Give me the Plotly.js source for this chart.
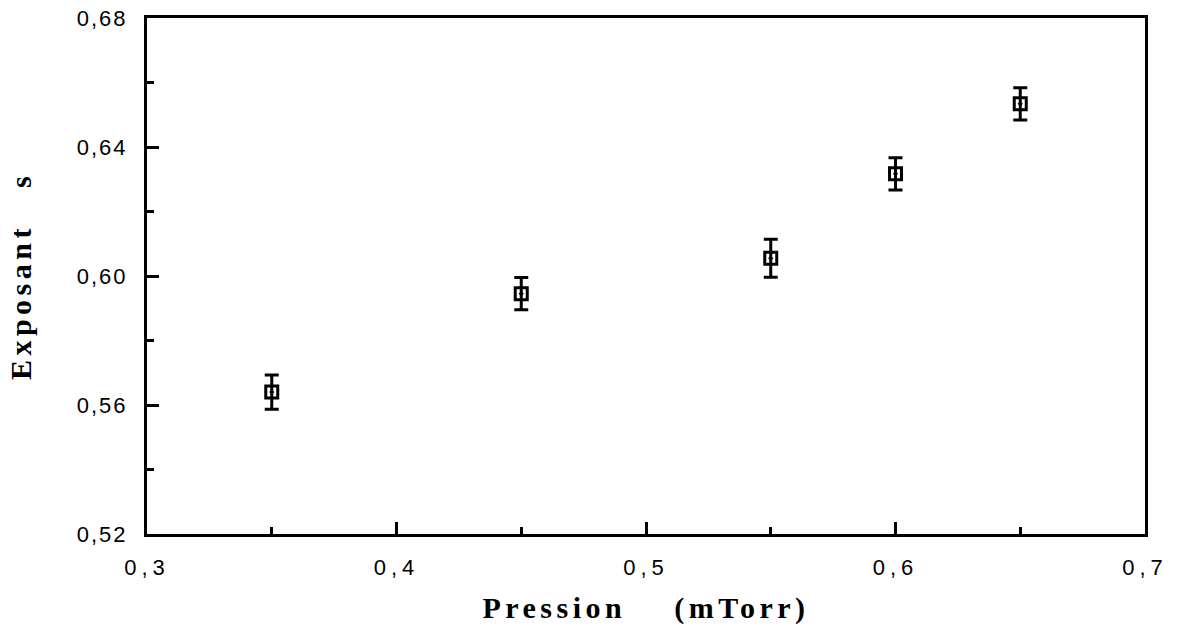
<!DOCTYPE html>
<html>
<head>
<meta charset="utf-8">
<script src="https://cdn.plot.ly/plotly-3.0.1.min.js"></script>
<style>
  html, body { margin: 0; padding: 0; background: #fff; }
  #chart { width: 1178px; height: 629px; }
  .xtitle, .ytitle { letter-spacing: 4.5px; }
  .xtick text { letter-spacing: 5px; }
  .ytick text { letter-spacing: 2px; }
</style>
</head>
<body>
<div id="chart"></div>
<script>
// Data
const pression = [0.35, 0.45, 0.55, 0.60, 0.65];          // mTorr
const exposant = [0.5640, 0.5945, 0.6055, 0.6317, 0.6534];
const erreur   = [0.0053, 0.0050, 0.0059, 0.0050, 0.0050];

const xTickVals = [0.3, 0.4, 0.5, 0.6, 0.7];
const xTickText = ["0,3", "0,4", "0,5", "0,6", "0,7"];
const yTickVals = [0.52, 0.56, 0.60, 0.64, 0.68];
const yTickText = ["0,52", "0,56", "0,60", "0,64", "0,68"];

const trace = {
  x: pression,
  y: exposant,
  type: 'scatter',
  mode: 'markers',
  marker: {
    symbol: 'square-open-dot',
    size: 12,
    color: '#000',
    line: { color: '#000', width: 3 }
  },
  error_y: {
    type: 'data',
    array: erreur,
    visible: true,
    color: '#000',
    thickness: 3,
    width: 7
  },
  hoverinfo: 'x+y'
};

const axisFont = { family: 'Liberation Sans, Arial, sans-serif', size: 22, color: '#000' };
const titleFont = { family: 'Liberation Serif, Times New Roman, serif', size: 30, color: '#000', weight: 'bold' };

const layout = {
  width: 1178,
  height: 629,
  margin: { l: 147, r: 33, t: 18, b: 95, pad: 0 },
  paper_bgcolor: '#fff',
  plot_bgcolor: '#fff',
  showlegend: false,
  xaxis: {
    range: [0.3, 0.7],
    tickmode: 'array',
    tickvals: xTickVals,
    ticktext: xTickText,
    ticks: 'inside',
    ticklen: 12,
    tickwidth: 3,
    tickcolor: '#000',
    minor: { dtick: 0.05, tick0: 0.3, ticks: 'inside', ticklen: 7, tickwidth: 3, tickcolor: '#000', showgrid: false },
    showline: true,
    linewidth: 3,
    linecolor: '#000',
    mirror: true,
    showgrid: false,
    zeroline: false,
    tickfont: axisFont,
    ticklabelstandoff: 12,
    title: { text: 'Pression\u00A0\u00A0\u00A0\u00A0(mTorr)', font: titleFont, standoff: 18 }
  },
  yaxis: {
    range: [0.52, 0.68],
    tickmode: 'array',
    tickvals: yTickVals,
    ticktext: yTickText,
    ticks: 'inside',
    ticklen: 12,
    tickwidth: 3,
    tickcolor: '#000',
    minor: { dtick: 0.02, tick0: 0.52, ticks: 'inside', ticklen: 7, tickwidth: 3, tickcolor: '#000', showgrid: false },
    showline: true,
    linewidth: 3,
    linecolor: '#000',
    mirror: true,
    showgrid: false,
    zeroline: false,
    tickfont: axisFont,
    ticklabelstandoff: 12,
    title: { text: 'Exposant\u00A0\u00A0\u00A0s', font: titleFont, standoff: 37 }
  }
};

Plotly.newPlot('chart', [trace], layout, { staticPlot: true, displayModeBar: false });
</script>
</body>
</html>
